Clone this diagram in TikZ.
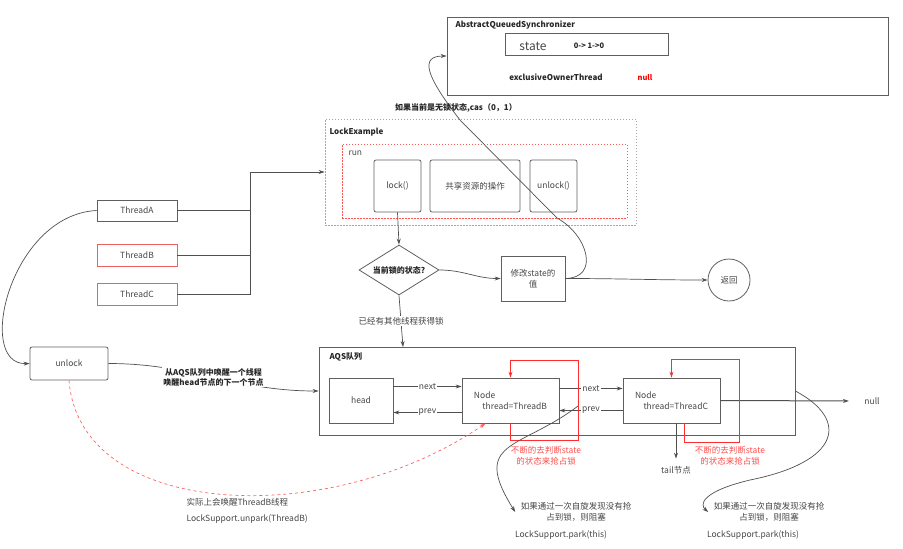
\documentclass[tikz,border=0pt]{standalone}
\usepackage{fontspec}
\setmainfont{Noto Sans CJK SC}
\usetikzlibrary{arrows.meta,positioning,calc,shapes.geometric}
\definecolor{boxGray}{RGB}{95,95,95}
\definecolor{lineGray}{RGB}{80,80,80}
\definecolor{txtGray}{RGB}{70,70,70}
\definecolor{boxRed}{RGB}{240,95,95}
\definecolor{loopRed}{RGB}{255,45,45}

\begin{document}
\begin{tikzpicture}[x=1pt, y=-1pt, >={Stealth[length=6pt,width=4pt]},
    every node/.style={font=\fontsize{8.5}{10.5}\selectfont, text=txtGray},
    box/.style={draw=boxGray, line width=0.8pt, minimum height=45},
    rbox/.style={draw=boxRed, line width=0.8pt, minimum width=80, minimum height=22},
    conn/.style={draw=lineGray, line width=0.7pt},
    lbl/.style={fill=white, inner sep=1pt},
    ttl/.style={font=\fontsize{8}{10}\selectfont\bfseries, text=black!85, anchor=west},
    redtxt/.style={text=loopRed!85, align=center}]
  \useasboundingbox (0,0) rectangle (903,549);
  % AQS object on top
  \node[box, minimum width=441, minimum height=78] (sync) at (667.5,56) {};
  \node[ttl] (syncTtl) at (452,25) {AbstractQueuedSynchronizer};
  \node[box, minimum width=163, minimum height=22] (stateBox) at (586.5,44) {};
  \node[font=\fontsize{12}{14}\selectfont] (stateTxt) at (533,46) {state};
  \node[font=\fontsize{7.5}{9}\selectfont\bfseries, text=black!85] (stateVal) at (589,46) {0-> 1->0};
  \node[font=\fontsize{8}{10}\selectfont\bfseries, text=black!85] (owner) at (556,77) {exclusiveOwnerThread};
  \node[font=\fontsize{7.5}{9}\selectfont\bfseries, text=red] (ownerVal) at (645,78) {null};
  % LockExample with its run block
  \node[draw=gray!70, dash pattern=on 1.5pt off 1.5pt, line width=0.6pt,
        minimum width=311, minimum height=106] (lockEx) at (480.5,172) {};
  \node[ttl] (lockExTtl) at (326,132) {LockExample};
  \node[draw=loopRed!80, dash pattern=on 1.5pt off 1.5pt, line width=0.6pt,
        minimum width=285, minimum height=74] (runBox) at (484.5,181) {};
  \node[anchor=west] (runTxt) at (345,153) {run};
  \node[box, rounded corners=2pt, minimum width=47, minimum height=52] (lockFn) at (397.5,186) {lock()};
  \node[box, rounded corners=2pt, minimum width=90, minimum height=52] (share) at (475,186) {共享资源的操作};
  \node[box, rounded corners=2pt, minimum width=47, minimum height=52] (unlockFn) at (553.5,186) {unlock()};
  % threads
  \node[box, minimum width=80, minimum height=21] (threadA) at (137,210.5) {ThreadA};
  \node[rbox] (threadB) at (137,255) {ThreadB};
  \node[rbox] (threadC) at (137,294.5) {ThreadC};
  \coordinate (join) at (250,172);
  \draw[conn] (threadA.east) -- (threadA.east -| join);
  \draw[conn] (threadB.east) -- (threadB.east -| join);
  \draw[conn] (threadC.east) -- (threadC.east -| join) -- (join);
  \draw[conn, ->] (join) -- (lockEx.west);
  % decision
  \node[draw=boxGray, line width=0.8pt, diamond, aspect=1.6, inner sep=0pt,
        minimum width=80, minimum height=50, font=\fontsize{8}{10}\selectfont\bfseries,
        text=black!85] (check) at (399,270) {当前锁的状态?};
  \draw[conn, ->] (lockFn.south) -- (check.north);
  \node[box, minimum width=64, minimum height=45, align=center] (setState) at (533,278.5) {修改state的\\值};
  \draw[conn, ->] (check.east) to[out=0, in=180] (setState.west);
  \node[draw=boxGray, line width=0.8pt, circle, minimum size=42] (ret) at (729,280) {返回};
  \draw[conn, ->] (setState.east) to[out=0, in=180] (ret.west);
  \draw[conn, ->] (setState.east) .. controls (600,278) and (588,235) .. (557,218)
    -- (460,120) .. controls (425,75) and (420,56) .. (sync.west);
  \node[font=\fontsize{8}{10}\selectfont\bfseries, text=black!85] (casTxt) at (456,108) {如果当前是无锁状态,cas（0，1）};
  % AQS queue
  \node[box, minimum width=476, minimum height=88] (queue) at (557,391) {};
  \node[ttl] (queueTtl) at (326,357) {AQS队列};
  \coordinate (queueIn) at (403,347);
  \draw[conn, ->] (check.south) -- node[lbl] {已经有其他线程获得锁} (queueIn);
  \node[box, minimum width=64] (head) at (361,400.5) {head};
  \node[box, minimum width=97, align=left] (nodeB) at (510.5,400.5) {Node\\[1pt]\quad thread=ThreadB};
  \node[box, minimum width=97, align=left] (nodeC) at (671.5,400.5) {Node\\[1pt]\quad thread=ThreadC};
  \draw[conn, ->] ([yshift=14pt]head.east) -- node[lbl] {next} ([yshift=14pt]nodeB.west);
  \draw[conn, ->] ([yshift=-12pt]nodeB.west) -- node[lbl] {prev} ([yshift=-12pt]head.east);
  \draw[conn, ->] ([yshift=12pt]nodeB.east) -- node[lbl] {next} ([yshift=12pt]nodeC.west);
  \draw[conn, ->] ([yshift=-10pt]nodeC.west) -- node[lbl] {prev} ([yshift=-10pt]nodeB.east);
  \node (nullTxt) at (872,401) {null};
  \draw[conn, line width=1pt, ->, shorten >=12pt] (nodeC.east) -- (nullTxt.west);
  \node (tailTxt) at (676,470) {tail节点};
  \draw[conn, ->] ([xshift=4.5pt]nodeC.south) -- ([yshift=4pt]tailTxt.north);
  % spinning on state
  \draw[loopRed, line width=0.8pt, ->] (nodeB.south) -- ++(0,17) -- ++(67.5,0) -- ++(0,-80) -| (nodeB.north);
  \draw[loopRed, line width=0.8pt, ->] ([xshift=12.5pt]nodeC.south) -- ++(0,19) -- ++(55,0) -- ++(0,-83) -| (nodeC.north);
  \node[redtxt] (spinTxtB) at (546,456) {不断的去判断state\\的状态来抢占锁};
  \node[redtxt] (spinTxtC) at (730,456) {不断的去判断state\\的状态来抢占锁};
  % unlock
  \node[box, rounded corners=2pt, minimum width=78, minimum height=33] (unlock) at (69,363.5) {unlock};
  \draw[conn, ->] (threadA.west) .. controls (10,215) and (-25,365) .. (unlock.west);
  \draw[conn, ->] (unlock.east) to[out=0, in=180]
    node[lbl, align=center, font=\fontsize{8}{10}\selectfont\bfseries, text=black!85]
    {从AQS队列中唤醒一个线程\\唤醒head节点的下一个节点} (queue.west);
  \draw[loopRed!75, line width=0.7pt, dashed, ->] (unlock.south) .. controls (80,520) and (330,530) .. ([xshift=-25pt]nodeB.south);
  \node[anchor=west] (wakeTxt) at (183,502) {实际上会唤醒ThreadB线程};
  \node[anchor=west] (unparkTxt) at (183,519) {LockSupport.unpark(ThreadB)};
  % park
  \coordinate (spinB) at (578,406);
  \node[align=center] (parkTxtB) at (576,512) {如果通过一次自旋发现没有抢\\占到锁，则阻塞};
  \node (parkB) at (561,535) {LockSupport.park(this)};
  \draw[conn, ->] (spinB) .. controls (520,450) and (470,440) .. ([xshift=-2pt]parkTxtB.west);
  \node[align=center] (parkTxtC) at (769,512) {如果通过一次自旋发现没有抢\\占到锁，则阻塞};
  \node (parkC) at (753,535) {LockSupport.park(this)};
  \draw[conn, ->] (queue.east) .. controls (850,420) and (840,462) .. (750,480)
    .. controls (700,492) and (700,505) .. ([xshift=-2pt]parkTxtC.west);
\end{tikzpicture}
\end{document}
